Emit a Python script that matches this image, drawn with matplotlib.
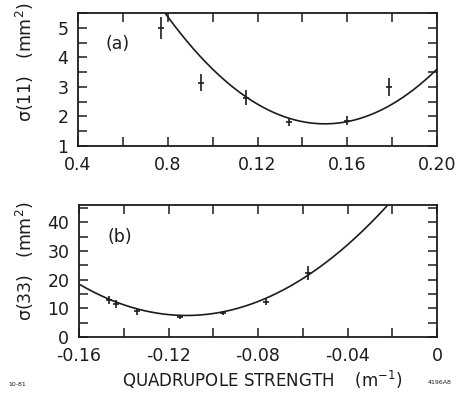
import numpy as np
import matplotlib
matplotlib.use("Agg")
import matplotlib.pyplot as plt
from matplotlib.ticker import MultipleLocator, FixedLocator, FixedFormatter

# panel (a): sigma(11) vs quadrupole strength
a_x = [0.077, 0.095, 0.115, 0.134, 0.160, 0.1785]
a_y = [5.0, 3.14, 2.63, 1.81, 1.85, 3.0]
a_err = [0.38, 0.28, 0.25, 0.15, 0.15, 0.3]
a_fit = (740.0, 0.150, 1.75)  # curvature, x at minimum, minimum value
a_xticks = [0.04, 0.08, 0.12, 0.16, 0.20]
a_xlabels = ["0.4", "0.8", "0.12", "0.16", "0.20"]

# panel (b): sigma(33) vs quadrupole strength
b_x = [-0.1466, -0.1435, -0.134, -0.115, -0.0956, -0.0764, -0.0576]
b_y = [12.9, 11.5, 9.0, 7.0, 8.3, 12.2, 22.3]
b_err = [1.5, 1.5, 1.2, 0.8, 0.8, 1.2, 2.5]
b_fit = (4750.0, -0.112, 7.5)
b_xticks = [-0.16, -0.12, -0.08, -0.04, 0.0]
b_xlabels = ["-0.16", "-0.12", "-0.08", "-0.04", "0"]

ink = "#1c1c1c"
plt.rcParams["font.family"] = ["DejaVu Sans"]

fig = plt.figure(figsize=(4.58, 3.95), dpi=100)
W, H = 458, 395
ax1 = fig.add_axes([78 / W, 1 - 146 / H, 359 / W, 133 / H])
ax2 = fig.add_axes([79 / W, 1 - 337 / H, 358 / W, 132 / H])


def style(ax, xticks, xlabels, xstep, ymajor, yminor):
    for s in ax.spines.values():
        s.set_linewidth(1.3)
        s.set_color(ink)
    ax.xaxis.set_major_locator(FixedLocator(xticks))
    ax.xaxis.set_major_formatter(FixedFormatter(xlabels))
    ax.xaxis.set_minor_locator(MultipleLocator(xstep))
    ax.yaxis.set_major_locator(MultipleLocator(ymajor))
    ax.yaxis.set_minor_locator(MultipleLocator(yminor))
    ax.tick_params(which="both", direction="in", top=True, right=True,
                   length=6.5, width=1.1, color=ink, labelsize=12.5,
                   labelcolor=ink)
    ax.tick_params(axis="x", which="both", pad=7)
    ax.tick_params(axis="y", which="both", pad=7)


def draw(ax, xs, ys, errs, fit, xlim):
    k, x0, y0 = fit
    xx = np.linspace(xlim[0], xlim[1], 400)
    ax.plot(xx, k * (xx - x0) ** 2 + y0, color=ink, lw=1.2)
    ax.errorbar(xs, ys, yerr=errs, fmt="_", color=ink, ms=5, mew=1.2,
                elinewidth=1.2, capsize=0)


draw(ax1, a_x, a_y, a_err, a_fit, (0.04, 0.20))
ax1.set_xlim(0.04, 0.20)
ax1.set_ylim(1, 5.5)
style(ax1, a_xticks, a_xlabels, 0.02, 1, 0.5)
ax1.text(0.109, 0.77, "(a)", transform=ax1.transAxes, fontsize=12.5,
         color=ink, ha="center", va="center")

draw(ax2, b_x, b_y, b_err, b_fit, (-0.16, 0.0))
ax2.set_xlim(-0.16, 0.0)
ax2.set_ylim(0, 46)
style(ax2, b_xticks, b_xlabels, 0.02, 10, 5)
ax2.text(0.115, 0.76, "(b)", transform=ax2.transAxes, fontsize=12.5,
         color=ink, ha="center", va="center")

fig.text(25 / W, 1 - 62 / H, "σ(11)   (mm$^2$)", rotation=90, ha="center",
         va="center", fontsize=12.5, color=ink)
fig.text(25 / W, 1 - 261 / H, "σ(33)   (mm$^2$)", rotation=90, ha="center",
         va="center", fontsize=12.5, color=ink)
fig.text(262 / W, 1 - 380 / H, "QUADRUPOLE STRENGTH    (m$^{-1}$)",
         ha="center", va="center", fontsize=12, color=ink)
fig.text(8 / W, 1 - 384 / H, "10-81", ha="left", va="center", fontsize=4.5,
         color=ink)
fig.text(452 / W, 1 - 383 / H, "4196A8", ha="right", va="center",
         fontsize=4.5, color=ink)

fig.savefig("out.png", dpi=100, facecolor="white")
